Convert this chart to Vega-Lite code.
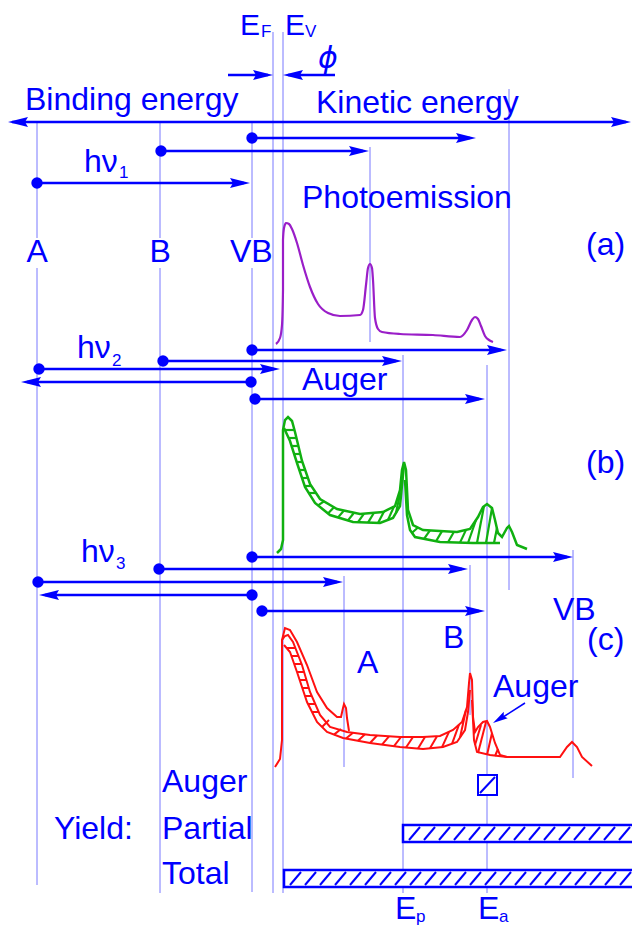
{
"$schema":"https://vega.github.io/schema/vega-lite/v6.json",
"width":632,"height":931,"autosize":"none","padding":0,"background":"white",
"config":{"view":{"stroke":null},"text":{"font":"Liberation Sans","fill":"#0000ff"}},
"datasets":{
"thin":[
{"x":37,"y":122,"x2":37,"y2":238},{"x":37,"y":268,"x2":37,"y2":885},
{"x":160,"y":122,"x2":160,"y2":238},{"x":160,"y":268,"x2":160,"y2":893},
{"x":252,"y":122,"x2":252,"y2":238},{"x":252,"y":268,"x2":252,"y2":892},
{"x":273,"y":32,"x2":273,"y2":893},{"x":283,"y":32,"x2":283,"y2":893},
{"x":370,"y":147,"x2":370,"y2":342},{"x":403,"y":355,"x2":403,"y2":893},
{"x":487,"y":365,"x2":487,"y2":893},{"x":509,"y":89,"x2":509,"y2":590},
{"x":344,"y":576,"x2":344,"y2":767},{"x":470,"y":565,"x2":470,"y2":715},
{"x":573,"y":550,"x2":573,"y2":778}],
"thick":[
{"x":12,"y":122,"x2":626,"y2":122},
{"x":228,"y":75,"x2":268,"y2":75},{"x":335,"y":75,"x2":288,"y2":75},
{"x":252,"y":138,"x2":470,"y2":138},{"x":161,"y":151,"x2":363,"y2":151},{"x":37,"y":183,"x2":244,"y2":183},
{"x":252,"y":350,"x2":501,"y2":350},{"x":163,"y":361,"x2":396,"y2":361},{"x":39,"y":369,"x2":274,"y2":369},
{"x":251,"y":382,"x2":27,"y2":382},{"x":255,"y":399,"x2":479,"y2":399},
{"x":252,"y":557,"x2":567,"y2":557},{"x":159,"y":569,"x2":462,"y2":569},{"x":38,"y":582,"x2":337,"y2":582},
{"x":252,"y":595,"x2":45,"y2":595},{"x":262,"y":611,"x2":479,"y2":611}],
"headsR":[{"x":631,"y":122},{"x":273,"y":75},{"x":476,"y":138},{"x":369,"y":151},{"x":250,"y":183},
{"x":507,"y":350},{"x":402,"y":361},{"x":280,"y":369},{"x":485,"y":399},
{"x":573,"y":557},{"x":468,"y":569},{"x":343,"y":582},{"x":485,"y":611}],
"headsL":[{"x":8,"y":122},{"x":283,"y":75},{"x":21,"y":382},{"x":39,"y":595}],
"dots":[{"x":252,"y":138},{"x":161,"y":151},{"x":37,"y":183},{"x":252,"y":350},{"x":163,"y":361},{"x":39,"y":369},
{"x":251,"y":382},{"x":255,"y":399},{"x":252,"y":557},{"x":159,"y":569},{"x":38,"y":582},{"x":252,"y":595},{"x":262,"y":611}],
"purple":[
{"i":0,"x":276,"y":344},{"i":1,"x":280,"y":338},{"i":2,"x":282,"y":325},{"i":3,"x":283,"y":290},{"i":4,"x":283,"y":240},{"i":5,"x":284,"y":228},{"i":6,"x":286,"y":223},{"i":7,"x":289,"y":224},{"i":8,"x":292,"y":229},{"i":9,"x":297,"y":243},{"i":10,"x":303,"y":265},{"i":11,"x":310,"y":287},{"i":12,"x":318,"y":304},{"i":13,"x":328,"y":313},{"i":14,"x":340,"y":316},{"i":15,"x":360,"y":315},{"i":16,"x":363,"y":310},{"i":17,"x":366,"y":285},{"i":18,"x":368,"y":268},{"i":19,"x":370,"y":264},{"i":20,"x":372,"y":268},{"i":21,"x":373,"y":280},{"i":22,"x":375,"y":318},{"i":23,"x":378,"y":329},{"i":24,"x":382,"y":332},{"i":25,"x":400,"y":334},{"i":26,"x":433,"y":335},{"i":27,"x":460,"y":337},{"i":28,"x":467,"y":330},{"i":29,"x":472,"y":320},{"i":30,"x":475,"y":317},{"i":31,"x":478,"y":319},{"i":32,"x":481,"y":326},{"i":33,"x":485,"y":336},{"i":34,"x":489,"y":340},{"i":35,"x":493,"y":342}],
"green":[
{"id":"g1","i":0,"x":277,"y":553},{"id":"g1","i":1,"x":281,"y":549},{"id":"g1","i":2,"x":283,"y":540},{"id":"g1","i":3,"x":283,"y":430},{"id":"g1","i":4,"x":285,"y":420},{"id":"g1","i":5,"x":288,"y":417},{"id":"g1","i":6,"x":292,"y":421},{"id":"g1","i":7,"x":295,"y":432},{"id":"g1","i":8,"x":302,"y":461},{"id":"g1","i":9,"x":310,"y":484},{"id":"g1","i":10,"x":320,"y":499},{"id":"g1","i":11,"x":337,"y":509},{"id":"g1","i":12,"x":360,"y":514},{"id":"g1","i":13,"x":383,"y":512},{"id":"g1","i":14,"x":395,"y":506},{"id":"g1","i":15,"x":400,"y":490},{"id":"g1","i":16,"x":402,"y":470},{"id":"g1","i":17,"x":404,"y":462},{"id":"g1","i":18,"x":406,"y":470},{"id":"g1","i":19,"x":408,"y":510},{"id":"g1","i":20,"x":413,"y":525},{"id":"g1","i":21,"x":423,"y":530},{"id":"g1","i":22,"x":457,"y":532},{"id":"g1","i":23,"x":470,"y":529},{"id":"g1","i":24,"x":478,"y":517},{"id":"g1","i":25,"x":483,"y":507},{"id":"g1","i":26,"x":487,"y":504},{"id":"g1","i":27,"x":492,"y":508},{"id":"g1","i":28,"x":495,"y":520},{"id":"g1","i":29,"x":498,"y":533},{"id":"g1","i":30,"x":502,"y":537},{"id":"g1","i":31,"x":507,"y":528},{"id":"g1","i":32,"x":509,"y":526},{"id":"g1","i":33,"x":512,"y":532},{"id":"g1","i":34,"x":517,"y":545},{"id":"g1","i":35,"x":527,"y":549},
{"id":"g2","i":0,"x":284,"y":428},{"id":"g2","i":1,"x":290,"y":441},{"id":"g2","i":2,"x":297,"y":463},{"id":"g2","i":3,"x":305,"y":487},{"id":"g2","i":4,"x":315,"y":503},{"id":"g2","i":5,"x":330,"y":515},{"id":"g2","i":6,"x":353,"y":522},{"id":"g2","i":7,"x":380,"y":523},{"id":"g2","i":8,"x":393,"y":518},{"id":"g2","i":9,"x":400,"y":506},{"id":"g2","i":10,"x":403,"y":475},{"id":"g2","i":11,"x":404,"y":465},
{"id":"g3","i":0,"x":405,"y":480},{"id":"g3","i":1,"x":407,"y":515},{"id":"g3","i":2,"x":410,"y":530},{"id":"g3","i":3,"x":415,"y":537},{"id":"g3","i":4,"x":440,"y":542},{"id":"g3","i":5,"x":473,"y":543},{"id":"g3","i":6,"x":500,"y":543}],
"red":[
{"id":"r1","i":0,"x":275,"y":767},{"id":"r1","i":1,"x":280,"y":759},{"id":"r1","i":2,"x":282,"y":740},{"id":"r1","i":3,"x":282,"y":640},{"id":"r1","i":4,"x":285,"y":628},{"id":"r1","i":5,"x":290,"y":630},{"id":"r1","i":6,"x":297,"y":642},{"id":"r1","i":7,"x":307,"y":665},{"id":"r1","i":8,"x":317,"y":692},{"id":"r1","i":9,"x":327,"y":708},{"id":"r1","i":10,"x":337,"y":717},{"id":"r1","i":11,"x":341,"y":717},{"id":"r1","i":12,"x":343,"y":708},{"id":"r1","i":13,"x":344,"y":704},{"id":"r1","i":14,"x":346,"y":708},{"id":"r1","i":15,"x":347,"y":718},{"id":"r1","i":16,"x":349,"y":731},
{"id":"r2","i":0,"x":282,"y":640},{"id":"r2","i":1,"x":285,"y":636},{"id":"r2","i":2,"x":288,"y":635},{"id":"r2","i":3,"x":293,"y":642},{"id":"r2","i":4,"x":302,"y":665},{"id":"r2","i":5,"x":310,"y":692},{"id":"r2","i":6,"x":320,"y":715},{"id":"r2","i":7,"x":330,"y":727},{"id":"r2","i":8,"x":347,"y":732},{"id":"r2","i":9,"x":370,"y":735},{"id":"r2","i":10,"x":400,"y":737},{"id":"r2","i":11,"x":423,"y":737},{"id":"r2","i":12,"x":440,"y":736},{"id":"r2","i":13,"x":453,"y":730},{"id":"r2","i":14,"x":462,"y":722},{"id":"r2","i":15,"x":467,"y":707},{"id":"r2","i":16,"x":469,"y":683},{"id":"r2","i":17,"x":470,"y":673},{"id":"r2","i":18,"x":472,"y":680},{"id":"r2","i":19,"x":473,"y":717},{"id":"r2","i":20,"x":475,"y":732},{"id":"r2","i":21,"x":478,"y":727},{"id":"r2","i":22,"x":483,"y":722},{"id":"r2","i":23,"x":487,"y":721},{"id":"r2","i":24,"x":490,"y":727},{"id":"r2","i":25,"x":495,"y":743},{"id":"r2","i":26,"x":500,"y":755},{"id":"r2","i":27,"x":507,"y":757},{"id":"r2","i":28,"x":560,"y":757},{"id":"r2","i":29,"x":567,"y":747},{"id":"r2","i":30,"x":572,"y":742},{"id":"r2","i":31,"x":577,"y":747},{"id":"r2","i":32,"x":582,"y":757},{"id":"r2","i":33,"x":592,"y":766},
{"id":"r3","i":0,"x":284,"y":645},{"id":"r3","i":1,"x":290,"y":652},{"id":"r3","i":2,"x":297,"y":672},{"id":"r3","i":3,"x":307,"y":702},{"id":"r3","i":4,"x":317,"y":722},{"id":"r3","i":5,"x":327,"y":732},{"id":"r3","i":6,"x":343,"y":738},{"id":"r3","i":7,"x":370,"y":743},{"id":"r3","i":8,"x":400,"y":747},{"id":"r3","i":9,"x":423,"y":749},{"id":"r3","i":10,"x":443,"y":747},{"id":"r3","i":11,"x":457,"y":742},{"id":"r3","i":12,"x":465,"y":730},{"id":"r3","i":13,"x":468,"y":712},{"id":"r3","i":14,"x":470,"y":690},
{"id":"r4","i":0,"x":472,"y":700},{"id":"r4","i":1,"x":474,"y":740},{"id":"r4","i":2,"x":477,"y":752},{"id":"r4","i":3,"x":490,"y":755},{"id":"r4","i":4,"x":507,"y":757}],
"greenHatch":[
{"x":284.9,"y":430,"x2":294.5,"y2":430},{"x":288.6,"y":438,"x2":296.4,"y2":438},{"x":291.6,"y":446,"x2":298.4,"y2":446},{"x":294.2,"y":454,"x2":300.3,"y2":454},{"x":296.7,"y":462,"x2":302.3,"y2":462},{"x":299.3,"y":470,"x2":305.1,"y2":470},{"x":302,"y":478,"x2":307.9,"y2":478},{"x":304.7,"y":486,"x2":311.3,"y2":486},{"x":308.8,"y":493,"x2":316,"y2":493},
{"x":318,"y":505.4,"x2":324,"y2":501.4},{"x":328,"y":513.4,"x2":334,"y2":507.2},{"x":338,"y":517.4,"x2":344,"y2":510.5},{"x":348,"y":520.4,"x2":354,"y2":512.7},{"x":358,"y":522.2,"x2":364,"y2":513.7},{"x":368,"y":522.6,"x2":374,"y2":512.8},{"x":378,"y":522.9,"x2":384,"y2":511.5},{"x":388,"y":519.9,"x2":394,"y2":506.5},{"x":396,"y":513,"x2":400,"y2":494},
{"x":412,"y":532.8,"x2":418,"y2":527.5},{"x":424,"y":538.8,"x2":430,"y2":530.4},{"x":436,"y":541.2,"x2":442,"y2":531.1},{"x":448,"y":542.2,"x2":454,"y2":531.8},{"x":460,"y":542.6,"x2":466,"y2":529.9},
{"x":468,"y":543,"x2":476,"y2":520},{"x":477,"y":543,"x2":484,"y2":506},{"x":486,"y":543,"x2":492,"y2":508},{"x":494,"y":543,"x2":497,"y2":528}],
"redHatch":[
{"x":286.6,"y":648,"x2":295.3,"y2":648},{"x":291.4,"y":656,"x2":298.5,"y2":656},{"x":294.2,"y":664,"x2":301.6,"y2":664},{"x":297,"y":672,"x2":304.1,"y2":672},{"x":299.7,"y":680,"x2":306.4,"y2":680},{"x":302.3,"y":688,"x2":308.8,"y2":688},{"x":305,"y":696,"x2":311.7,"y2":696},{"x":308,"y":704,"x2":315.2,"y2":704},{"x":312,"y":712,"x2":318.7,"y2":712},
{"x":322,"y":727,"x2":329,"y2":720},{"x":334,"y":734.6,"x2":341,"y2":729},{"x":346,"y":738.6,"x2":353,"y2":732.8},{"x":358,"y":740.8,"x2":365,"y2":734.3},{"x":370,"y":743,"x2":377,"y2":735.5},{"x":382,"y":744.6,"x2":389,"y2":736.3},{"x":394,"y":746.2,"x2":401,"y2":737},{"x":406,"y":747.5,"x2":413,"y2":737},{"x":418,"y":748.6,"x2":425,"y2":736.9},{"x":430,"y":748.3,"x2":437,"y2":736.2},{"x":442,"y":747.1,"x2":449,"y2":731.8},{"x":452,"y":743.8,"x2":459,"y2":724.7},{"x":460,"y":737.5,"x2":466,"y2":710},
{"x":475,"y":745,"x2":481,"y2":725},{"x":478,"y":753,"x2":486,"y2":722},{"x":487,"y":755,"x2":492,"y2":733},{"x":495,"y":756,"x2":498,"y2":749}],
"blueHatch":[
{"x":480,"y":793,"x2":495,"y2":777},
{"x":290,"y":885,"x2":301,"y2":872},{"x":305,"y":885,"x2":316,"y2":872},{"x":320,"y":885,"x2":331,"y2":872},{"x":335,"y":885,"x2":346,"y2":872},{"x":350,"y":885,"x2":361,"y2":872},{"x":365,"y":885,"x2":376,"y2":872},{"x":380,"y":885,"x2":391,"y2":872},{"x":395,"y":885,"x2":406,"y2":872},{"x":410,"y":885,"x2":421,"y2":872},{"x":425,"y":885,"x2":436,"y2":872},{"x":440,"y":885,"x2":451,"y2":872},{"x":455,"y":885,"x2":466,"y2":872},{"x":470,"y":885,"x2":481,"y2":872},{"x":485,"y":885,"x2":496,"y2":872},{"x":500,"y":885,"x2":511,"y2":872},{"x":515,"y":885,"x2":526,"y2":872},{"x":530,"y":885,"x2":541,"y2":872},{"x":545,"y":885,"x2":556,"y2":872},{"x":560,"y":885,"x2":571,"y2":872},{"x":575,"y":885,"x2":586,"y2":872},{"x":590,"y":885,"x2":601,"y2":872},{"x":605,"y":885,"x2":616,"y2":872},{"x":620,"y":885,"x2":631,"y2":872},
{"x":409,"y":840,"x2":420,"y2":827},{"x":424,"y":840,"x2":435,"y2":827},{"x":439,"y":840,"x2":450,"y2":827},{"x":454,"y":840,"x2":465,"y2":827},{"x":469,"y":840,"x2":480,"y2":827},{"x":484,"y":840,"x2":495,"y2":827},{"x":499,"y":840,"x2":510,"y2":827},{"x":514,"y":840,"x2":525,"y2":827},{"x":529,"y":840,"x2":540,"y2":827},{"x":544,"y":840,"x2":555,"y2":827},{"x":559,"y":840,"x2":570,"y2":827},{"x":574,"y":840,"x2":585,"y2":827},{"x":589,"y":840,"x2":600,"y2":827},{"x":604,"y":840,"x2":615,"y2":827},{"x":619,"y":840,"x2":630,"y2":827}],
"bars":[{"x":403,"x2":640,"y":825,"y2":842},{"x":284,"x2":640,"y":870,"y2":887}],
"square":[{"x":478,"x2":497,"y":775,"y2":795}],
"augerLine":[{"x":525,"y":703,"x2":500,"y2":719}],
"augerHead":[{"x":493,"y":723}],
"labels":[
{"x":25,"y":110,"t":"Binding energy"},{"x":316,"y":113,"t":"Kinetic energy"},{"x":302,"y":208,"t":"Photoemission"},
{"x":26.5,"y":262,"t":"A"},{"x":149.5,"y":262,"t":"B"},{"x":230,"y":262,"t":"VB"},{"x":586,"y":255,"t":"(a)"},
{"x":302,"y":390,"t":"Auger"},{"x":586,"y":473,"t":"(b)"},
{"x":357,"y":673,"t":"A"},{"x":443,"y":648,"t":"B"},{"x":553,"y":620,"t":"VB"},{"x":587,"y":650,"t":"(c)"},{"x":493,"y":697,"t":"Auger"},
{"x":162,"y":792,"t":"Auger"},{"x":54,"y":839,"t":"Yield:"},{"x":162,"y":839,"t":"Partial"},{"x":162,"y":884,"t":"Total"},
{"x":84,"y":172,"t":"hν"},{"x":77,"y":358,"t":"hν"},{"x":81,"y":562,"t":"hν"},
{"x":395,"y":919,"t":"E"},{"x":478,"y":919,"t":"E"}],
"bigE":[{"x":240,"y":35,"t":"E"},{"x":285,"y":35,"t":"E"}],
"subs":[{"x":261,"y":37,"t":"F"},{"x":305,"y":37,"t":"V"},{"x":119,"y":178,"t":"1"},{"x":112,"y":366,"t":"2"},{"x":116,"y":569,"t":"3"},{"x":416,"y":922,"t":"p"},{"x":499,"y":922,"t":"a"}],
"phi":[{"x":318,"y":68,"t":"ϕ"}]
},
"encoding":{
"x":{"field":"x","type":"quantitative","scale":{"domain":[0,632],"nice":false,"zero":false},"axis":null},
"y":{"field":"y","type":"quantitative","scale":{"domain":[0,931],"nice":false,"zero":false,"reverse":true},"axis":null}
},
"layer":[
{"data":{"name":"thin"},"mark":{"type":"rule","stroke":"#2020ff","strokeWidth":1,"opacity":0.6},"encoding":{"x2":{"field":"x2"},"y2":{"field":"y2"}}},
{"data":{"name":"bars"},"mark":{"type":"rect","fill":"white","stroke":"#0000ff","strokeWidth":2.5,"clip":true},"encoding":{"x2":{"field":"x2"},"y2":{"field":"y2"}}},
{"data":{"name":"square"},"mark":{"type":"rect","fill":"white","stroke":"#0000ff","strokeWidth":2},"encoding":{"x2":{"field":"x2"},"y2":{"field":"y2"}}},
{"data":{"name":"blueHatch"},"mark":{"type":"rule","stroke":"#0000ff","strokeWidth":2,"clip":true},"encoding":{"x2":{"field":"x2"},"y2":{"field":"y2"}}},
{"data":{"name":"thick"},"mark":{"type":"rule","stroke":"#0000ff","strokeWidth":2.5},"encoding":{"x2":{"field":"x2"},"y2":{"field":"y2"}}},
{"data":{"name":"augerLine"},"mark":{"type":"rule","stroke":"#0000ff","strokeWidth":1.5},"encoding":{"x2":{"field":"x2"},"y2":{"field":"y2"}}},
{"data":{"name":"headsR"},"mark":{"type":"point","shape":"M0,0L-1,-0.25L-0.85,0L-1,0.25Z","filled":true,"fill":"#0000ff","opacity":1,"size":1600,"strokeWidth":0}},
{"data":{"name":"headsL"},"mark":{"type":"point","shape":"M0,0L1,-0.25L0.85,0L1,0.25Z","filled":true,"fill":"#0000ff","opacity":1,"size":1600,"strokeWidth":0}},
{"data":{"name":"augerHead"},"mark":{"type":"point","shape":"M0,0L-1,-0.25L-0.85,0L-1,0.25Z","filled":true,"fill":"#0000ff","opacity":1,"size":900,"strokeWidth":0,"angle":148}},
{"data":{"name":"dots"},"mark":{"type":"point","shape":"circle","filled":true,"fill":"#0000ff","opacity":1,"size":130,"strokeWidth":0}},
{"data":{"name":"purple"},"mark":{"type":"line","stroke":"#9a1ec8","strokeWidth":2.2,"interpolate":"monotone"},"encoding":{"order":{"field":"i","type":"quantitative"}}},
{"data":{"name":"green"},"mark":{"type":"line","stroke":"#10b010","strokeWidth":2.5,"interpolate":"linear"},"encoding":{"detail":{"field":"id"},"order":{"field":"i","type":"quantitative"}}},
{"data":{"name":"greenHatch"},"mark":{"type":"rule","stroke":"#10b010","strokeWidth":2.2},"encoding":{"x2":{"field":"x2"},"y2":{"field":"y2"}}},
{"data":{"name":"red"},"mark":{"type":"line","stroke":"#ff1010","strokeWidth":2,"interpolate":"linear"},"encoding":{"detail":{"field":"id"},"order":{"field":"i","type":"quantitative"}}},
{"data":{"name":"redHatch"},"mark":{"type":"rule","stroke":"#ff1010","strokeWidth":2},"encoding":{"x2":{"field":"x2"},"y2":{"field":"y2"}}},
{"data":{"name":"labels"},"mark":{"type":"text","fontSize":32,"align":"left","baseline":"alphabetic","fill":"#0000ff"},"encoding":{"text":{"field":"t"}}},
{"data":{"name":"bigE"},"mark":{"type":"text","fontSize":30,"align":"left","baseline":"alphabetic","fill":"#0000ff"},"encoding":{"text":{"field":"t"}}},
{"data":{"name":"subs"},"mark":{"type":"text","fontSize":17,"align":"left","baseline":"alphabetic","fill":"#0000ff"},"encoding":{"text":{"field":"t"}}},
{"data":{"name":"phi"},"mark":{"type":"text","font":"DejaVu Sans","fontSize":30,"fontStyle":"italic","align":"left","baseline":"alphabetic","fill":"#0000ff"},"encoding":{"text":{"field":"t"}}}
]
}
